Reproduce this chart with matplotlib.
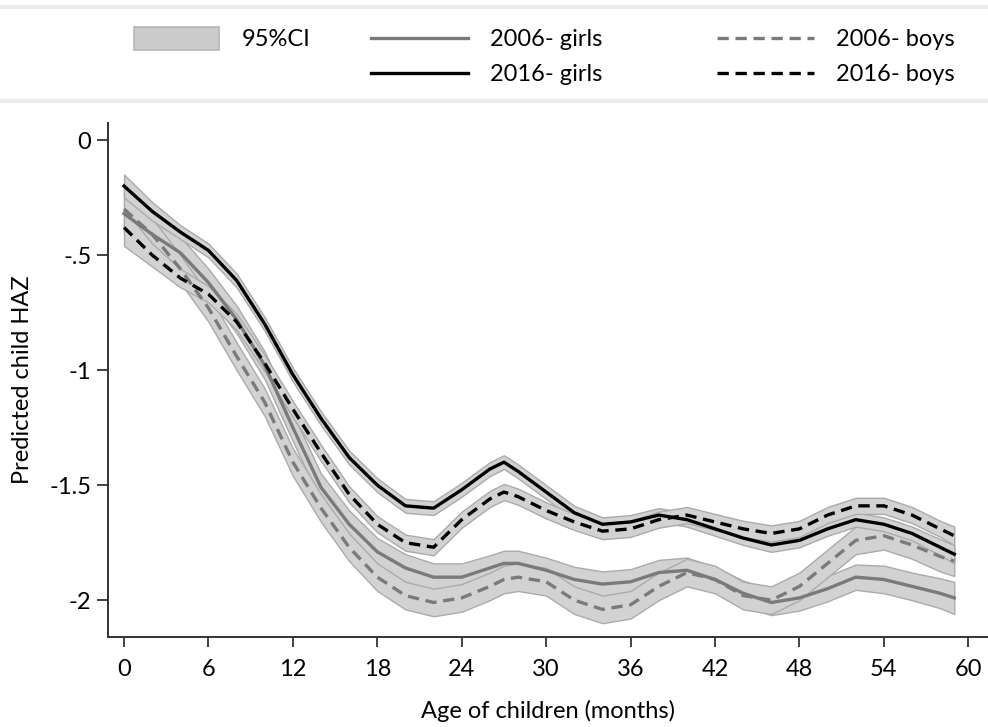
import matplotlib
matplotlib.use('Agg')
import matplotlib.pyplot as plt
import matplotlib.patches as patches
from matplotlib.lines import Line2D
import numpy as np

plt.rcParams['font.family'] = ['Lato', 'DejaVu Sans']

# age in months
ages = [0, 2, 4, 6, 8, 10, 12, 14, 16, 18, 20, 22, 24, 26, 27, 28, 30, 32, 34, 36,
        38, 40, 42, 44, 46, 48, 50, 52, 54, 56, 58, 59]

# predicted HAZ
girls_2016 = [-0.20, -0.31, -0.40, -0.48, -0.61, -0.80, -1.02, -1.21, -1.38, -1.50,
              -1.59, -1.60, -1.52, -1.43, -1.40, -1.44, -1.53, -1.62, -1.67, -1.66,
              -1.63, -1.65, -1.69, -1.73, -1.76, -1.74, -1.69, -1.65, -1.67, -1.71,
              -1.77, -1.80]
boys_2016 = [-0.38, -0.50, -0.60, -0.67, -0.79, -0.97, -1.17, -1.36, -1.54, -1.67,
             -1.75, -1.77, -1.65, -1.56, -1.53, -1.55, -1.61, -1.66, -1.70, -1.69,
             -1.65, -1.63, -1.66, -1.69, -1.71, -1.69, -1.63, -1.59, -1.59, -1.63,
             -1.69, -1.72]
girls_2006 = [-0.32, -0.41, -0.49, -0.62, -0.78, -0.98, -1.25, -1.51, -1.67, -1.79,
              -1.86, -1.90, -1.90, -1.86, -1.84, -1.84, -1.87, -1.91, -1.93, -1.92,
              -1.88, -1.87, -1.91, -1.97, -2.01, -1.99, -1.95, -1.90, -1.91, -1.94,
              -1.97, -1.99]
boys_2006 = [-0.30, -0.41, -0.56, -0.73, -0.94, -1.14, -1.40, -1.60, -1.77, -1.90,
             -1.98, -2.01, -1.99, -1.94, -1.91, -1.90, -1.92, -2.00, -2.04, -2.02,
             -1.94, -1.88, -1.91, -1.98, -2.00, -1.94, -1.84, -1.74, -1.72, -1.76,
             -1.81, -1.83]

# half width of the 95% CI
ci_girls_2016 = [0.05, 0.04, 0.03, 0.03, 0.03, 0.03, 0.03, 0.03, 0.03, 0.03,
                 0.03, 0.03, 0.03, 0.03, 0.03, 0.03, 0.03, 0.03, 0.03, 0.03,
                 0.03, 0.03, 0.03, 0.03, 0.03, 0.03, 0.03, 0.03, 0.03, 0.03,
                 0.035, 0.04]
ci_boys_2016 = [0.08, 0.05, 0.04, 0.035, 0.035, 0.035, 0.035, 0.035, 0.035, 0.035,
                0.035, 0.035, 0.035, 0.035, 0.035, 0.035, 0.035, 0.035, 0.035, 0.035,
                0.035, 0.035, 0.035, 0.035, 0.035, 0.035, 0.035, 0.035, 0.035, 0.035,
                0.035, 0.04]
ci_girls_2006 = [0.10, 0.08, 0.07, 0.06, 0.06, 0.06, 0.06, 0.06, 0.06, 0.06,
                 0.06, 0.06, 0.06, 0.055, 0.055, 0.055, 0.055, 0.055, 0.055, 0.055,
                 0.055, 0.055, 0.055, 0.055, 0.055, 0.055, 0.055, 0.055, 0.06, 0.06,
                 0.065, 0.07]
ci_boys_2006 = [0.09, 0.07, 0.06, 0.06, 0.06, 0.06, 0.06, 0.06, 0.06, 0.06,
                0.06, 0.06, 0.06, 0.06, 0.06, 0.06, 0.06, 0.06, 0.06, 0.06,
                0.06, 0.06, 0.06, 0.06, 0.06, 0.06, 0.06, 0.06, 0.06, 0.06,
                0.065, 0.065]

series = [
    (girls_2006, ci_girls_2006, '#7a7a7a', '-', '2006- girls'),
    (boys_2006, ci_boys_2006, '#7a7a7a', (0, (3.4, 2.0)), '2006- boys'),
    (girls_2016, ci_girls_2016, '#000000', '-', '2016- girls'),
    (boys_2016, ci_boys_2016, '#000000', (0, (3.4, 2.0)), '2016- boys'),
]

fs = 17

fig = plt.figure(figsize=(9.88, 7.27), dpi=100)
ax = fig.add_axes([108 / 988, 1 - 637 / 727, (988 - 108) / 988, (637 - 123) / 727])

x = np.array(ages)
for vals, ci, col, ls, lab in series:
    v = np.array(vals)
    h = np.array(ci)
    ax.fill_between(x, v - h, v + h, facecolor='#d2d2d2', edgecolor='#ababab',
                    linewidth=1.0, zorder=1)
for vals, ci, col, ls, lab in series:
    ax.plot(x, vals, color=col, linestyle=ls, linewidth=2.4, zorder=3)

ax.set_xlim(-1.14, 61.4)
ax.set_ylim(-2.16, 0.074)
ax.set_xticks(range(0, 61, 6))
ax.set_yticks([0, -0.5, -1, -1.5, -2])
ax.set_yticklabels(['0', '-.5', '-1', '-1.5', '-2'])
for s in ['top', 'right']:
    ax.spines[s].set_visible(False)
for s in ['left', 'bottom']:
    ax.spines[s].set_color('#333333')
    ax.spines[s].set_linewidth(1.4)
ax.tick_params(axis='both', colors='#333333', width=1.3, labelsize=fs,
               labelcolor='black')
ax.tick_params(axis='y', length=8, pad=4)
ax.tick_params(axis='x', length=7, pad=9)
ax.set_xlabel('Age of children (months)', fontsize=fs, labelpad=14)
ax.set_ylabel('Predicted child HAZ', fontsize=fs, labelpad=12)

# legend region borders
fig.add_artist(Line2D([0, 1], [1 - 7 / 727, 1 - 7 / 727], color='#ececec', linewidth=3))
fig.add_artist(Line2D([0, 1], [1 - 101 / 727, 1 - 101 / 727], color='#ececec', linewidth=3))

ci_handle = patches.Patch(facecolor='#cccccc', edgecolor='#b5b5b5', linewidth=1.2)
girls_h = [Line2D([], [], color=series[0][2], linestyle=series[0][3], linewidth=2.4),
           Line2D([], [], color=series[2][2], linestyle=series[2][3], linewidth=2.4)]
boys_h = [Line2D([], [], color=series[1][2], linestyle=series[1][3], linewidth=2.4),
          Line2D([], [], color=series[3][2], linestyle=series[3][3], linewidth=2.4)]

leg_kw = dict(frameon=False, fontsize=fs, handletextpad=0.95,
              labelspacing=0.6, borderaxespad=0, borderpad=0)
fig.legend([ci_handle], ['95%CI'], loc='upper left', handlelength=3.6,
           bbox_to_anchor=(134 / 988, 1 - 27 / 727), handleheight=1.1, **leg_kw)
fig.legend(girls_h, [series[0][4], series[2][4]], loc='upper left', handlelength=4.1,
           bbox_to_anchor=(371 / 988, 1 - 29 / 727), **leg_kw)
fig.legend(boys_h, [series[1][4], series[3][4]], loc='upper left', handlelength=4.1,
           bbox_to_anchor=(717 / 988, 1 - 29 / 727), **leg_kw)

fig.savefig('out.png', dpi=100)
